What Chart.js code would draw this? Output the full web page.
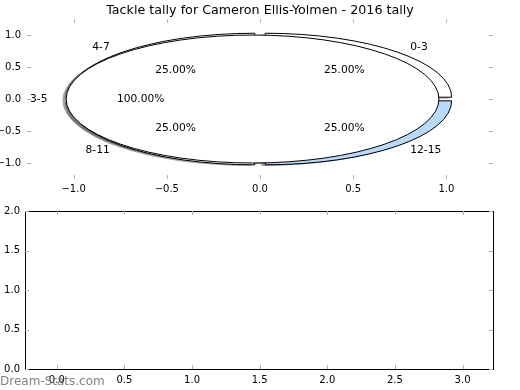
<!DOCTYPE html>
<html lang="en">
<head>
<meta charset="UTF-8" />
<title>Tackle tally - Cameron Ellis-Yolmen</title>
<script src="https://cdn.jsdelivr.net/npm/chart.js"></script>
<style>
  body { margin: 0; background: #fff; }
  #wrap { position: relative; width: 520px; height: 390px; }
  #pieChart { position: absolute; left: 0; top: 0; }
  #emptyChart { position: absolute; left: 0; top: 200px; }
</style>
</head>
<body>
<div id="wrap">
  <canvas id="pieChart" width="520" height="200"></canvas>
  <canvas id="emptyChart" width="520" height="190"></canvas>
</div>

<script>
// outer ring: tackle ranges, one slice each
const outerLabels = ["0-3", "4-7", "8-11", "12-15"];
const outerValues = [1, 1, 1, 1];
const outerColors = ["#ffffff", "#ffffff", "#ffffff", "#b9d9fd"];

// inner pie: single range
const innerLabels = ["3-5"];
const innerValues = [1];
const innerColors = ["#ffffff"];

// tick labels
const pieTicks = [-1, -0.5, 0, 0.5, 1];
const emptyXTicks = [0, 0.5, 1, 1.5, 2, 2.5, 3];
const emptyYTicks = [0, 0.5, 1, 1.5, 2];

const titleText = "Tackle tally for Cameron Ellis-Yolmen - 2016 tally";
const FONT = "DejaVu Sans";

function fmt(v) {
  return v.toFixed(1).replace("-", "\u2212");
}

function slices(values, colors, labels) {
  const total = values.reduce((a, b) => a + b, 0);
  let a = 0;
  return values.map((v, i) => {
    const t1 = a, t2 = a + v / total * 360;
    a = t2;
    return { t1, t2, color: colors[i], label: labels[i], pct: (v / total * 100).toFixed(2) + "%" };
  });
}

function darker(hex) {
  const n = parseInt(hex.slice(1), 16);
  const r = Math.round(((n >> 16) & 255) * 0.3), g = Math.round(((n >> 8) & 255) * 0.3), b = Math.round((n & 255) * 0.3);
  return `rgba(${r},${g},${b},0.5)`;
}

// draws the squashed pie with the chart's own x/y scales
const ellipsePie = {
  id: "ellipsePie",
  afterDatasetsDraw(chart) {
    const { ctx, scales: { x, y } } = chart;
    const rx = x.getPixelForValue(1) - x.getPixelForValue(0);
    const ry = y.getPixelForValue(0) - y.getPixelForValue(1);
    const explode = 0.04;
    const outer = slices(outerValues, outerColors, outerLabels);
    const inner = slices(innerValues, innerColors, innerLabels);
    const all = outer.concat(inner);

    function centre(w) {
      const mid = (w.t1 + w.t2) / 2 * Math.PI / 180;
      return [explode * Math.cos(mid), explode * Math.sin(mid), mid];
    }
    function path(w, dx, dy) {
      const [ox, oy] = centre(w);
      const cx = x.getPixelForValue(ox + dx), cy = y.getPixelForValue(oy + dy);
      ctx.beginPath();
      if (w.t2 - w.t1 >= 359.999) {
        ctx.ellipse(cx, cy, rx, ry, 0, 0, 2 * Math.PI);
      } else {
        ctx.moveTo(cx, cy);
        ctx.ellipse(cx, cy, rx, ry, 0, -w.t1 * Math.PI / 180, -w.t2 * Math.PI / 180, true);
        ctx.closePath();
      }
    }

    ctx.save();
    // shadows go under every wedge
    all.forEach(w => {
      path(w, -0.02, -0.02);
      ctx.fillStyle = darker(w.color);
      ctx.fill();
    });
    ctx.strokeStyle = "#000";
    ctx.lineWidth = 1;
    all.forEach(w => {
      path(w, 0, 0);
      ctx.fillStyle = w.color;
      ctx.fill();
      ctx.stroke();
    });

    // labels
    ctx.fillStyle = "#000";
    ctx.font = "10.7px '" + FONT + "'";
    ctx.textBaseline = "middle";
    all.forEach(w => {
      const [ox, oy, mid] = centre(w);
      const lx = ox + 1.1 * Math.cos(mid), ly = oy + 1.1 * Math.sin(mid);
      ctx.textAlign = lx > 0 ? "left" : "right";
      ctx.fillText(w.label, x.getPixelForValue(lx), y.getPixelForValue(ly));
      const px = ox + 0.6 * Math.cos(mid), py = oy + 0.6 * Math.sin(mid);
      ctx.textAlign = "center";
      ctx.fillText(w.pct, x.getPixelForValue(px), y.getPixelForValue(py));
    });
    ctx.restore();
  }
};

// small inward tick marks on all four sides
const innerTicks = {
  id: "innerTicks",
  afterDraw(chart, args, opts) {
    const { ctx, chartArea: a, scales: { x, y } } = chart;
    ctx.save();
    if (opts.frame) {
      ctx.strokeStyle = "#000";
      ctx.lineWidth = 1;
      ctx.strokeRect(Math.round(a.left) + 0.5, Math.round(a.top) + 0.5,
        Math.round(a.right - a.left), Math.round(a.bottom - a.top));
    }
    ctx.strokeStyle = "#b4b4b4";
    ctx.lineWidth = 1;
    ctx.beginPath();
    x.ticks.forEach(t => {
      const p = Math.round(x.getPixelForValue(t.value)) + 0.5;
      ctx.moveTo(p, a.top); ctx.lineTo(p, a.top + 4);
      ctx.moveTo(p, a.bottom); ctx.lineTo(p, a.bottom - 4);
    });
    y.ticks.forEach(t => {
      const p = Math.round(y.getPixelForValue(t.value)) + 0.5;
      ctx.moveTo(a.left, p); ctx.lineTo(a.left + 4, p);
      ctx.moveTo(a.right, p); ctx.lineTo(a.right - 4, p);
    });
    ctx.stroke();
    if (opts.watermark) {
      ctx.fillStyle = "rgba(115,115,115,0.9)";
      ctx.font = "12px '" + FONT + "'";
      ctx.textAlign = "left";
      ctx.textBaseline = "alphabetic";
      ctx.fillText(opts.watermark, 0, chart.height - 5);
    }
    ctx.restore();
  }
};

function axis(min, max, list, size, pad, isX) {
  const cfg = {
    type: "linear",
    min: min,
    max: max,
    grid: { display: false, drawTicks: false },
    border: { display: false },
    ticks: {
      color: "#000",
      padding: pad,
      font: { family: FONT, size: 10 },
      callback: v => fmt(v)
    },
    afterBuildTicks: ax => { ax.ticks = list.map(v => ({ value: v })); }
  };
  cfg.afterFit = isX ? (ax => { ax.height = size; }) : (ax => { ax.width = size; });
  return cfg;
}

new Chart(document.getElementById("pieChart"), {
  type: "scatter",
  data: { datasets: [{ data: [] }] },
  options: {
    responsive: false,
    animation: false,
    layout: { padding: { left: 0, right: 27, top: 0, bottom: 0 } },
    plugins: {
      legend: { display: false },
      tooltip: { enabled: false },
      title: {
        display: true,
        fullSize: false,   // centre over the plot area, not the canvas
        text: titleText,
        color: "#000",
        font: { family: FONT, size: 12.7, weight: "normal" },
        padding: { top: 3.5, bottom: 0.3 }
      },
      innerTicks: {}
    },
    scales: {
      x: axis(-1.25, 1.25, pieTicks, 21, 4, true),
      y: axis(-1.25, 1.25, pieTicks, 27, 6, false)
    }
  },
  plugins: [ellipsePie, innerTicks]
});

new Chart(document.getElementById("emptyChart"), {
  type: "scatter",
  data: { datasets: [{ data: [] }] },
  options: {
    responsive: false,
    animation: false,
    layout: { padding: { left: 0, right: 27, top: 10, bottom: 0 } },
    plugins: {
      legend: { display: false },
      tooltip: { enabled: false },
      innerTicks: { frame: true, watermark: "Dream-Stats.com" }
    },
    scales: {
      x: axis(-0.235, 3.225, emptyXTicks, 21, 5, true),
      y: axis(0, 2, emptyYTicks, 25, 5, false)
    }
  },
  plugins: [innerTicks]
});
</script>
</body>
</html>
